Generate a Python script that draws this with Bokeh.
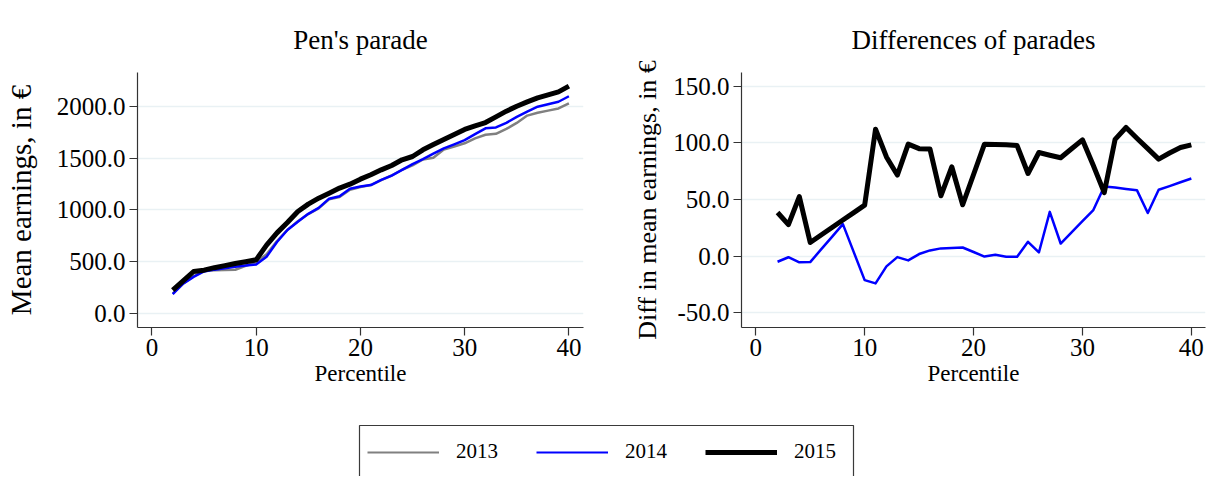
from bokeh.plotting import figure
from bokeh.layouts import column, row
from bokeh.models import (Range1d, FixedTicker, NumeralTickFormatter, Legend, LegendItem,
                          ColumnDataSource)
from bokeh.embed import file_html
from bokeh.resources import INLINE

# ---------------- data ----------------
percentile = list(range(2, 41))

earn_2013 = [189, 286, 357, 409, 415, 418, 420, 457, 492, 570, 698, 806, 889, 959,
             1014, 1101, 1124, 1195, 1221, 1240, 1288, 1332, 1388, 1430, 1487, 1504,
             1583, 1613, 1644, 1692, 1727, 1736, 1783, 1841, 1912, 1939, 1960, 1981, 2030]
earn_2014 = [184, 285, 351, 404, 421, 435, 448, 460, 471, 546, 689, 805, 885, 961,
             1019, 1108, 1131, 1203, 1225, 1240, 1289, 1331, 1387, 1443, 1490, 1543,
             1594, 1634, 1675, 1733, 1789, 1797, 1842, 1899, 1950, 1998, 2022, 2046, 2099]
earn_2015 = [223, 313, 403, 416, 440, 460, 480, 498, 516, 658, 777, 877, 984, 1055,
             1113, 1161, 1210, 1248, 1297, 1339, 1387, 1429, 1484, 1516, 1581, 1632,
             1681, 1729, 1778, 1813, 1845, 1900, 1955, 2003, 2045, 2084, 2113, 2142, 2197]

diff_2014 = [-5, -1, -5.5, -5.3, 5.9, 17, 28.2, 3.5, -21.2, -24.1, -9.1, -0.9, -3.8, 1.8,
             5, 6.8, 7.2, 7.6, 3.6, -0.4, 1.1, -0.6, -0.6, 12.6, 3.2, 39, 11.1, 20.9,
             30.8, 40.6, 61.5, 60.6, 59.3, 58.2, 38, 58.5, 61.8, 65.2, 68.5]
diff_2015 = [38.5, 27.8, 52.5, 12, 18.6, 25.2, 31.8, 38.4, 45, 112, 87.5, 71.5, 98.8, 94.8,
             94.4, 53.2, 78.8, 45.3, 72, 98.8, 98.5, 98.2, 97.5, 72.9, 91.4, 89, 86.8,
             94.7, 102.6, 80, 56, 103, 113.5, 104, 94.8, 85.6, 91, 95.8, 98.2]

years = ["2013", "2014", "2015"]
colors = ["#808080", "#0000ff", "#000000"]
widths = [2.5, 2.5, 5]

left_ticks = [0, 500, 1000, 1500, 2000]
right_ticks = [-50, 0, 50, 100, 150]
x_ticks = [0, 10, 20, 30, 40]

FONT = "Liberation Serif"


def style(p, yticks):
    p.background_fill_color = "white"
    p.border_fill_color = "white"
    p.outline_line_color = None
    p.xgrid.visible = False
    p.ygrid.grid_line_color = "#e9f1f4"
    p.ygrid.grid_line_width = 1.5
    p.ygrid.ticker = FixedTicker(ticks=yticks)
    p.xaxis.ticker = FixedTicker(ticks=x_ticks)
    p.yaxis.ticker = FixedTicker(ticks=yticks)
    p.yaxis.formatter = NumeralTickFormatter(format="0.0")
    for ax in (p.xaxis, p.yaxis):
        ax.axis_line_color = "#333333"
        ax.axis_line_width = 1.2
        ax.major_tick_line_color = "#333333"
        ax.major_tick_line_width = 1.2
        ax.major_tick_out = 8
        ax.major_tick_in = 0
        ax.minor_tick_line_color = None
        ax.major_label_text_font = FONT
        ax.major_label_text_font_size = "25px"
        ax.major_label_text_color = "black"
        ax.axis_label_text_font = FONT
        ax.axis_label_text_font_style = "normal"
        ax.axis_label_text_color = "black"
    p.xaxis.axis_label_text_font_size = "23px"
    p.xaxis.axis_label_standoff = 2
    p.xaxis.major_label_standoff = 3
    p.yaxis.major_label_standoff = 4
    p.title.text_font = FONT
    p.title.text_font_size = "27px"
    p.title.text_font_style = "normal"
    p.title.align = "center"
    p.title.text_color = "black"
    p.title.standoff = 36


H = 405
p1 = figure(width=600, height=H, output_backend="svg", toolbar_location=None,
            title="Pen's parade",
            x_range=Range1d(-1.38, 41.4), y_range=Range1d(-139, 2329),
            min_border_left=137, min_border_right=17, min_border_top=72,
            min_border_bottom=78)
style(p1, left_ticks)
p1.xaxis.axis_label = "Percentile"
p1.yaxis.axis_label = "Mean earnings, in €"
p1.yaxis.axis_label_text_font_size = "29px"
p1.yaxis.axis_label_standoff = 17

src = ColumnDataSource(dict(x=percentile, a=earn_2013, b=earn_2014, c=earn_2015,
                            d14=diff_2014, d15=diff_2015))
for col, c, w in zip(["a", "b", "c"], colors, widths):
    p1.line("x", col, source=src, line_color=c, line_width=w, line_join="round")

p2 = figure(width=612, height=H, output_backend="svg", toolbar_location=None,
            title="Differences of parades",
            x_range=Range1d(-1.31, 41.3), y_range=Range1d(-63, 162),
            min_border_left=141, min_border_right=7, min_border_top=72,
            min_border_bottom=78)
style(p2, right_ticks)
p2.xaxis.axis_label = "Percentile"
p2.yaxis.axis_label = "Diff in mean earnings, in €"
p2.yaxis.axis_label_text_font_size = "26px"
p2.yaxis.axis_label_standoff = 8
p2.line("x", "d14", source=src, line_color=colors[1], line_width=widths[1], line_join="round")
p2.line("x", "d15", source=src, line_color=colors[2], line_width=widths[2], line_join="round")

# legend panel
LH = 71
leg = figure(width=1212, height=LH, output_backend="svg", toolbar_location=None,
             x_range=Range1d(0, 1212), y_range=Range1d(0, LH),
             min_border=0, min_border_left=0, min_border_right=0,
             min_border_top=0, min_border_bottom=0)
leg.axis.visible = False
leg.grid.visible = False
leg.outline_line_color = None
leg.background_fill_color = "white"
leg.border_fill_color = "white"
leg.quad(left=[359], right=[853], top=[LH - 20], bottom=[-20], fill_color=None,
         line_color="#3a3a3a", line_width=1.2)
legend_widths = [2.2, 2.2, 5]
items = []
for y, c, w in zip(years, colors, legend_widths):
    r = leg.line(x=[-50, -40], y=[-50, -50], line_color=c, line_width=w)
    items.append(LegendItem(label=y, renderers=[r]))
lg = Legend(items=items, orientation="horizontal", location=(367, 12),
            glyph_width=72, glyph_height=20, label_standoff=17, label_width=51,
            spacing=29, padding=0, margin=0, border_line_color=None,
            background_fill_alpha=0, label_text_font=FONT,
            label_text_font_size="21px", label_text_color="black")
leg.add_layout(lg)

layout = column(row(p1, p2), leg)
open("out.html", "w").write(file_html(layout, INLINE))
